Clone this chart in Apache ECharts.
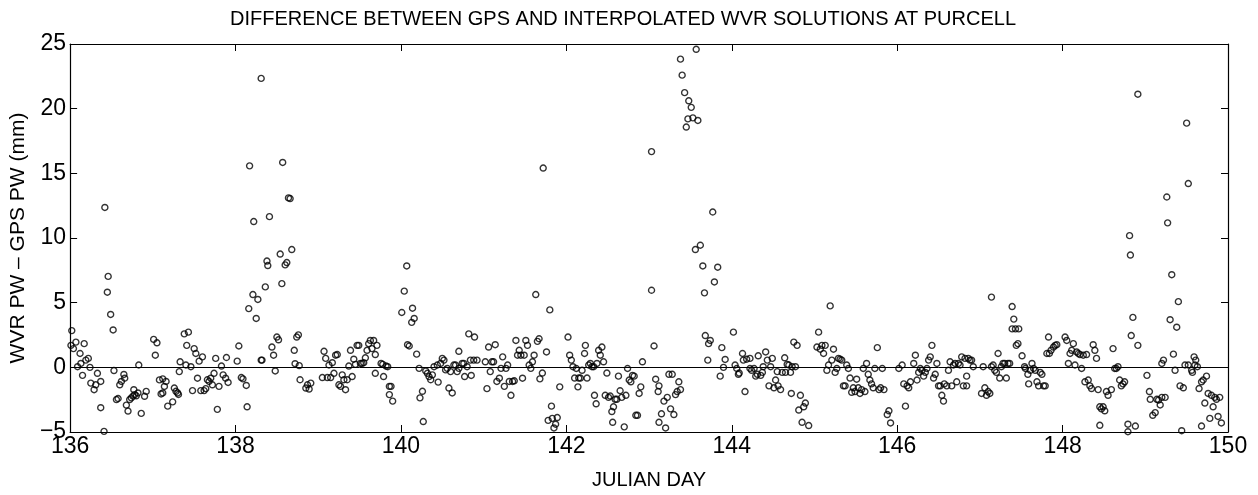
<!DOCTYPE html>
<html>
<head>
<meta charset="utf-8">
<title>GPS vs WVR</title>
<script src="https://cdn.jsdelivr.net/npm/echarts@6/dist/echarts.min.js"></script>
</head>
<body style="margin:0; background:#fff;">
<div id="main" style="width:1258px; height:495px;"></div>
<script type="text/javascript">

// julian day of each solution
var julianDay = [
136.02,136.01,136.04,136.07,136.12,136.17,136.09,136.13,136.15,136.19,136.22,136.24,136.25,136.29,136.31,136.33,136.37,136.37,136.42,136.46,
136.45,136.49,136.52,136.41,136.53,136.56,136.58,136.60,136.62,136.65,136.66,136.68,136.70,136.72,136.74,136.76,136.77,136.78,136.80,136.82,
136.83,136.86,136.90,136.92,137.01,137.05,137.03,137.08,137.10,137.12,137.12,137.14,137.16,137.18,137.24,137.26,137.28,137.30,137.31,137.33,
137.32,
137.40,137.46,137.38,137.43,137.41,137.50,137.52,137.56,137.60,137.54,137.48,137.58,137.62,137.64,137.66,137.68,137.70,137.72,137.74,137.76,
137.78,137.80,137.83,137.85,137.88,137.89,137.91,138.02,138.04,138.07,138.09,138.13,138.14,138.17,138.22,138.16,138.21,138.25,138.27,138.31,
138.31,138.32,138.36,138.38,138.39,138.41,138.44,138.46,138.48,138.50,138.52,138.54,138.56,138.57,138.60,138.62,138.64,138.66,138.68,138.71,
138.72,138.74,138.76,138.77,138.78,
138.85,138.87,138.89,138.91,139.05,139.07,139.09,139.11,139.13,139.15,139.17,139.19,139.21,139.23,139.25,139.27,139.29,139.31,139.33,139.35,
139.37,139.39,139.41,139.43,139.45,139.47,139.49,139.51,139.53,139.55,139.57,139.59,139.61,139.63,139.65,139.67,139.69,139.71,139.69,139.76,
139.78,139.79,139.82,139.84,139.86,139.88,139.86,139.90,140.01,140.04,140.07,140.14,140.16,140.13,140.08,140.10,140.19,140.22,140.23,
140.26,140.27,140.30,140.32,140.34,140.36,140.38,140.40,140.44,140.45,140.48,140.50,140.52,140.54,140.56,140.58,140.60,140.62,140.64,140.66,
140.68,140.70,140.70,140.74,140.76,140.77,140.80,140.82,140.84,140.85,140.88,140.89,140.92,141.02,141.04,141.06,141.08,141.10,141.12,141.14,
141.16,141.19,141.21,141.23,141.25,141.27,141.29,141.31,141.33,141.35,141.37,141.39,141.41,141.43,141.45,141.47,141.49,141.51,141.53,141.55,
141.57,141.59,141.61,141.63,141.65,141.67,141.68,
141.71,141.72,141.76,141.80,141.82,141.78,141.83,141.85,141.87,141.89,141.92,142.02,142.04,142.06,142.08,142.10,142.12,142.14,142.15,142.17,
142.19,142.22,142.23,142.25,142.27,142.29,142.31,142.33,142.34,142.36,142.37,142.39,142.41,142.43,142.45,142.47,142.49,142.51,142.53,142.55,
142.56,142.57,142.59,142.61,142.63,142.65,142.67,142.70,142.72,142.74,142.76,142.78,142.80,142.82,142.84,142.86,142.88,142.90,142.92,143.03,
143.03,143.06,143.08,143.11,143.12,143.12,
143.15,143.18,143.20,143.22,143.24,143.26,143.28,143.30,143.32,143.34,143.36,143.38,143.38,143.40,143.43,143.48,143.51,143.47,143.45,143.53,
143.59,143.57,143.56,143.62,143.65,143.67,143.77,143.79,143.83,143.68,143.72,143.74,143.71,143.86,143.88,143.90,143.92,144.02,144.04,144.06,
144.08,144.09,144.13,144.14,144.16,144.18,144.22,144.22,144.24,144.27,144.29,144.31,144.32,144.35,144.37,144.38,144.41,144.43,144.45,144.47,
144.49,144.51,144.53,144.55,144.56,
144.59,144.61,144.64,144.65,144.67,144.69,144.71,144.72,144.75,144.79,144.73,144.77,144.81,144.83,144.85,144.87,144.89,144.93,145.03,145.05,
145.07,145.09,145.11,145.13,145.15,145.17,145.19,145.21,145.23,145.25,145.27,145.29,145.31,145.33,145.35,145.37,145.39,145.41,145.43,145.45,
145.47,145.49,145.51,145.53,145.55,145.57,145.59,145.61,145.63,145.65,145.67,145.69,145.71,145.73,145.76,145.78,145.80,145.82,145.84,145.88,
145.90,145.92,146.02,
146.06,146.08,146.10,146.12,146.14,146.16,146.20,146.22,146.24,146.26,146.28,146.30,146.32,146.34,146.36,146.38,146.40,146.42,146.44,146.46,
146.48,146.50,146.52,146.54,146.56,146.57,146.60,146.62,146.64,146.66,146.68,146.70,146.72,146.74,146.76,146.78,146.80,146.82,146.84,146.84,
146.86,146.88,146.90,146.92,147.02,147.04,147.06,147.08,147.10,147.12,147.14,147.14,147.16,147.18,147.20,147.22,147.24,147.26,147.28,147.30,
147.32,147.34,147.36,147.39,147.41,147.39,147.43,147.44,147.46,147.47,
147.51,147.54,147.55,147.58,147.59,147.61,147.63,147.65,147.67,147.69,147.71,147.73,147.75,147.77,147.79,147.81,147.83,147.84,147.86,147.89,
147.91,147.93,148.03,148.05,148.07,148.09,148.11,148.13,148.15,148.17,148.19,148.21,148.23,148.25,148.27,148.29,148.31,148.33,148.35,148.37,
148.39,148.41,148.43,148.45,148.45,148.47,148.49,148.51,148.53,148.55,148.59,148.61,148.63,148.65,148.67,148.69,148.71,148.73,148.75,148.79,
148.79,148.88,148.81,148.82,148.83,148.85,148.91,148.91,
149.02,149.05,149.06,149.09,149.12,149.14,149.16,149.18,149.20,149.24,149.20,149.22,149.26,149.27,149.32,149.30,149.34,149.36,149.38,149.40,
149.42,149.44,149.46,149.48,149.50,149.52,149.52,149.56,149.57,149.59,149.60,149.61,149.63,149.65,149.68,149.70,149.72,149.74,149.76,149.78,
149.80,149.82,149.84,149.86,149.88,149.90,149.92,149.68
];

// WVR PW - GPS PW (mm), same order as julianDay
var pwDiff = [
2.84,1.70,1.45,1.95,1.07,1.83,0.05,0.30,-0.62,0.56,0.69,0.00,-1.22,-1.73,-1.35,-0.46,-1.09,-3.12,12.36,7.03,
5.81,4.09,2.89,-4.95,-0.25,-2.49,-2.41,-1.35,-1.09,-0.55,-0.84,-2.92,-3.38,-2.49,-2.36,-2.23,-1.73,-2.11,-2.20,-1.98,
0.18,-3.56,-2.24,-1.86,2.16,1.90,0.94,-0.97,-2.06,-0.89,-1.98,-1.48,-1.09,-3.00,-2.67,-1.60,-1.85,-1.98,-2.10,0.43,
-0.33,
0.18,0.05,2.59,2.72,1.70,1.45,1.07,0.48,0.81,-0.84,-1.80,-1.80,-1.80,-1.65,-0.96,-1.09,-0.84,-1.35,-0.46,0.69,
-3.25,-1.47,0.10,-0.58,-0.84,0.76,-1.17,0.48,1.65,-0.79,-0.89,-1.40,-3.05,15.58,11.27,4.54,5.63,3.78,5.25,22.34,
0.56,0.56,6.22,8.22,7.87,11.65,1.57,0.94,-0.28,2.34,2.13,8.76,6.47,15.84,7.92,8.10,13.10,13.05,9.11,1.32,
0.28,2.34,2.51,0.13,-0.96,
-1.60,-1.35,-1.68,-1.22,-0.79,1.24,0.69,-0.79,0.18,-0.79,0.36,-0.46,0.94,0.99,-1.35,-1.47,-0.58,-0.96,-1.73,-0.96,
0.10,1.32,-0.71,0.63,0.23,1.70,1.70,0.30,0.30,0.36,0.74,1.32,1.83,2.08,1.45,2.08,-0.46,1.70,0.99,0.30,
0.23,-0.71,0.10,0.05,-1.47,-1.47,-2.11,-2.61,4.24,5.89,7.84,4.57,3.78,3.48,1.75,1.65,1.02,-0.08,-2.36,
-1.85,-4.19,-0.28,-0.46,-0.71,-0.96,-0.58,0.05,0.18,-1.14,0.30,0.69,0.56,-0.20,-0.08,-1.60,-0.33,-1.98,0.18,0.18,
-0.33,1.24,-0.08,0.30,0.30,-0.71,0.05,2.59,0.56,-0.63,0.56,2.34,0.56,0.43,-1.65,1.57,-0.33,0.43,0.43,1.75,
-1.09,-0.84,-0.08,0.81,-1.47,-0.08,0.18,-1.09,-2.16,-1.09,-1.04,2.08,0.94,1.32,0.94,-0.84,0.94,2.08,1.70,0.18,
-0.08,0.43,0.94,5.63,2.01,2.21,-0.89,
-0.44,15.41,1.19,4.44,-3.00,-4.10,-3.95,-4.69,-4.40,-3.88,-1.51,2.34,0.94,0.56,0.05,-0.83,-0.09,-1.51,-0.83,-0.83,
-0.23,1.07,1.70,-0.83,0.18,0.30,0.05,0.05,-2.16,-2.82,0.30,1.32,0.94,1.57,0.43,-2.16,-0.44,-2.32,-2.22,-3.42,
-4.25,-3.05,-2.47,-2.47,-0.68,-1.81,-2.32,-4.60,-2.16,-0.09,-0.98,-1.12,-0.62,-0.68,-3.71,-3.71,-2.02,-1.51,0.43,16.68,
5.96,1.65,-0.92,-1.87,-1.43,-4.25,
-3.59,-2.61,-4.69,-2.32,-0.54,-3.21,-0.54,-3.65,-2.11,-1.87,-1.12,-1.72,23.83,22.59,21.24,20.61,20.10,19.21,18.58,19.29,
19.09,24.59,9.11,9.44,7.84,5.76,12.01,6.60,7.74,2.46,1.83,2.08,0.56,-0.68,1.52,0.00,0.61,2.72,0.18,-0.09,
-0.54,-0.44,1.07,0.56,-1.87,0.63,0.69,-0.09,-0.23,-0.09,-0.68,-0.54,0.89,-0.62,-0.39,0.05,1.19,0.56,-1.43,0.05,
0.69,-1.58,-0.98,-0.33,-1.43,
-1.72,-0.39,0.74,-0.39,0.23,0.18,-0.39,-2.02,1.95,1.70,0.05,0.05,-3.30,-2.16,-4.25,-3.05,-2.76,-4.50,1.57,2.72,
1.40,1.70,1.07,1.70,-0.23,0.18,4.75,0.56,1.40,-0.39,-0.09,0.69,0.63,0.56,-1.43,-1.43,0.18,-0.09,-0.83,-1.93,
-1.58,-1.87,-0.92,-1.58,-2.02,-1.72,-0.09,-1.87,0.30,-0.54,-0.98,-1.28,-1.58,-0.09,1.52,-1.72,-1.58,-0.09,-1.72,-3.65,
-3.36,-4.30,-0.09,
0.18,-1.28,-3.00,-1.43,-1.58,-1.12,0.30,0.94,-0.98,-0.39,-0.09,-0.23,-0.68,-0.39,-0.09,0.56,0.81,1.70,-0.83,-0.54,
0.30,-1.43,-1.43,-2.16,-2.61,-1.28,-1.43,-0.23,0.43,-1.43,0.18,0.30,-1.12,0.30,0.18,0.81,-1.43,0.69,-1.43,-0.68,
0.69,0.56,0.56,0.05,-2.02,0.05,-1.58,-2.16,-1.87,-2.02,5.43,0.05,0.18,-0.23,-0.39,1.07,-0.83,0.05,0.30,0.30,
-0.83,0.30,0.30,4.70,3.73,2.97,2.97,1.70,1.83,2.97,
0.89,0.05,-0.09,-0.54,-1.28,-0.23,0.30,-0.09,-0.23,-1.12,-1.43,-0.39,-0.54,-1.43,-1.43,1.07,2.34,1.07,1.32,1.57,
1.70,1.75,2.34,2.08,0.30,1.07,1.32,1.83,0.18,1.19,1.07,0.99,-0.09,0.94,-1.12,0.99,-0.98,-1.43,-1.64,1.75,
1.32,0.69,-1.72,-4.48,-3.05,-3.21,-3.05,-3.36,-1.87,-2.16,-1.72,1.45,-0.09,-0.09,0.05,-0.98,-1.43,-1.28,-1.12,-4.40,
-4.98,-4.54,10.18,8.68,2.46,3.86,1.70,21.12,
-0.62,-1.87,-2.47,-3.71,-3.50,-2.47,-2.53,-2.91,-2.32,-2.32,0.30,0.56,13.17,11.17,7.16,3.68,1.02,-0.23,3.10,5.08,
-1.43,-4.90,-1.58,0.18,18.88,14.21,0.18,-0.23,-0.39,0.81,0.18,0.56,0.05,-1.64,-1.12,-0.98,-2.76,-0.68,-2.02,-3.95,
-2.16,-3.05,-2.32,-2.47,-3.80,-2.32,-4.30,-4.54
];

var xTicks = [136, 150, 2];
var yTicks = [-5, 25, 5];

var points = julianDay.map(function (d, i) { return [d, pwDiff[i]]; });

var chartDom = document.getElementById('main');
var myChart = echarts.init(chartDom);
var font = 'Liberation Sans, Arial, Helvetica, sans-serif';
var minus = function (v) { return String(v).replace('-', '\u2212'); };

var option = {
  animation: false,
  backgroundColor: '#fff',
  title: {
    text: 'DIFFERENCE BETWEEN GPS AND INTERPOLATED WVR SOLUTIONS AT PURCELL',
    left: 618,
    textAlign: 'center',
    top: 4,
    textStyle: { fontFamily: font, fontSize: 20, fontWeight: 'normal', color: '#000' }
  },
  grid: { left: 69, right: 30, top: 44, bottom: 57, containLabel: false },
  xAxis: [
    {
      type: 'value', min: xTicks[0], max: xTicks[1], interval: xTicks[2],
      position: 'bottom',
      name: 'JULIAN DAY', nameLocation: 'middle', nameGap: 38,
      nameTextStyle: { fontFamily: font, fontSize: 20, color: '#000' },
      axisLine: { onZero: false, lineStyle: { color: '#000', width: 1.2 } },
      axisTick: { inside: true, length: 7, lineStyle: { color: '#000' } },
      axisLabel: { fontFamily: font, fontSize: 23, color: '#000', margin: 3 },
      splitLine: { show: false }
    },
    {
      type: 'value', min: xTicks[0], max: xTicks[1], interval: xTicks[2],
      position: 'top',
      axisLine: { onZero: false, lineStyle: { color: '#000', width: 1.2 } },
      axisTick: { inside: true, length: 7, lineStyle: { color: '#000' } },
      axisLabel: { show: false },
      splitLine: { show: false }
    }
  ],
  yAxis: [
    {
      type: 'value', min: yTicks[0], max: yTicks[1], interval: yTicks[2],
      position: 'left',
      name: 'WVR PW \u2013 GPS PW (mm)', nameLocation: 'middle', nameGap: 36,
      nameTextStyle: { fontFamily: font, fontSize: 21, color: '#000' },
      axisLine: { onZero: false, lineStyle: { color: '#000', width: 1.2 } },
      axisTick: { inside: true, length: 7, lineStyle: { color: '#000' } },
      axisLabel: { fontFamily: font, fontSize: 23, color: '#000', margin: 4, formatter: minus },
      splitLine: { show: false }
    },
    {
      type: 'value', min: yTicks[0], max: yTicks[1], interval: yTicks[2],
      position: 'right',
      axisLine: { onZero: false, lineStyle: { color: '#000', width: 1.2 } },
      axisTick: { inside: true, length: 7, lineStyle: { color: '#000' } },
      axisLabel: { show: false },
      splitLine: { show: false }
    }
  ],
  series: [
    {
      name: 'WVR - GPS',
      type: 'scatter',
      data: points,
      symbol: 'circle',
      symbolSize: 6,
      itemStyle: { color: 'rgba(0,0,0,0)', borderColor: '#000', borderWidth: 1.4 },
      markLine: {
        silent: true,
        symbol: 'none',
        label: { show: false },
        lineStyle: { color: '#000', width: 1, type: 'solid' },
        data: [{ yAxis: 0 }]
      }
    }
  ]
};

option && myChart.setOption(option);
</script>
</body>
</html>
